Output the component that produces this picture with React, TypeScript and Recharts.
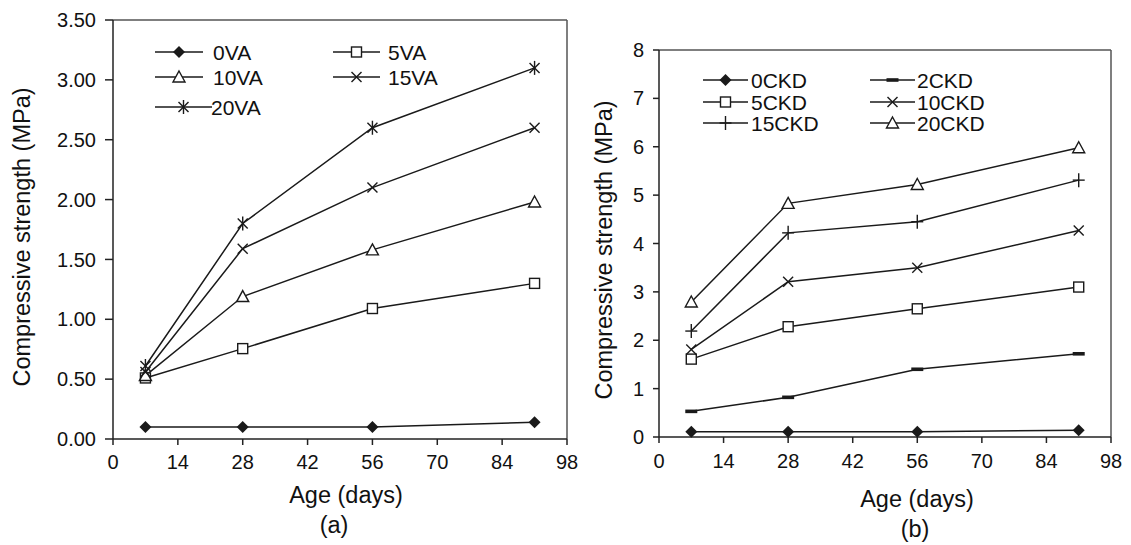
import React from 'react'
import { LineChart, Line, XAxis, YAxis, ReferenceLine } from 'recharts'

const ages = [7, 28, 56, 91]
const ageTicks = [0, 14, 28, 42, 56, 70, 84, 98]

// (a) VA series
const va0 = [0.1, 0.1, 0.1, 0.14]
const va5 = [0.51, 0.755, 1.09, 1.3]
const va10 = [0.53, 1.19, 1.58, 1.98]
const va15 = [0.56, 1.59, 2.1, 2.6]
const va20 = [0.61, 1.8, 2.6, 3.1]
const vaTicks = [0, 0.5, 1, 1.5, 2, 2.5, 3, 3.5]

// (b) CKD series
const ckd0 = [0.11, 0.11, 0.11, 0.14]
const ckd2 = [0.53, 0.82, 1.4, 1.72]
const ckd5 = [1.61, 2.28, 2.65, 3.1]
const ckd10 = [1.81, 3.21, 3.5, 4.27]
const ckd15 = [2.19, 4.22, 4.45, 5.31]
const ckd20 = [2.79, 4.83, 5.22, 5.98]
const ckdTicks = [0, 1, 2, 3, 4, 5, 6, 7, 8]

const FONT = '"Liberation Sans", Arial, sans-serif'
const INK = '#1a1a1a'

type Shape = 'diamond' | 'square' | 'triangle' | 'cross' | 'star' | 'plus' | 'dash'

function Marker({ shape, cx, cy }: { shape: Shape; cx: number; cy: number }) {
  const s = { stroke: INK, strokeWidth: 1.4 }
  switch (shape) {
    case 'diamond':
      return <polygon points={`${cx},${cy - 6} ${cx + 6},${cy} ${cx},${cy + 6} ${cx - 6},${cy}`} fill={INK} />
    case 'square':
      return <rect x={cx - 5} y={cy - 5} width={10} height={10} fill="#fff" {...s} />
    case 'triangle':
      return <polygon points={`${cx},${cy - 6} ${cx + 6},${cy + 5} ${cx - 6},${cy + 5}`} fill="#fff" {...s} />
    case 'cross':
      return (
        <g {...s}>
          <line x1={cx - 5} y1={cy - 5} x2={cx + 5} y2={cy + 5} />
          <line x1={cx - 5} y1={cy + 5} x2={cx + 5} y2={cy - 5} />
        </g>
      )
    case 'star':
      return (
        <g {...s}>
          <line x1={cx - 5} y1={cy - 5} x2={cx + 5} y2={cy + 5} />
          <line x1={cx - 5} y1={cy + 5} x2={cx + 5} y2={cy - 5} />
          <line x1={cx} y1={cy - 7} x2={cx} y2={cy + 7} />
        </g>
      )
    case 'plus':
      return (
        <g {...s}>
          <line x1={cx - 6} y1={cy} x2={cx + 6} y2={cy} />
          <line x1={cx} y1={cy - 7} x2={cx} y2={cy + 7} />
        </g>
      )
    default:
      return <rect x={cx - 6} y={cy - 1.8} width={12} height={3.6} fill={INK} />
  }
}

type Series = { key: string; name: string; values: number[]; shape: Shape }

const vaSeries: Series[] = [
  { key: 'v0', name: '0VA', values: va0, shape: 'diamond' },
  { key: 'v5', name: '5VA', values: va5, shape: 'square' },
  { key: 'v10', name: '10VA', values: va10, shape: 'triangle' },
  { key: 'v15', name: '15VA', values: va15, shape: 'cross' },
  { key: 'v20', name: '20VA', values: va20, shape: 'star' },
]

const ckdSeries: Series[] = [
  { key: 'c0', name: '0CKD', values: ckd0, shape: 'diamond' },
  { key: 'c2', name: '2CKD', values: ckd2, shape: 'dash' },
  { key: 'c5', name: '5CKD', values: ckd5, shape: 'square' },
  { key: 'c10', name: '10CKD', values: ckd10, shape: 'cross' },
  { key: 'c15', name: '15CKD', values: ckd15, shape: 'plus' },
  { key: 'c20', name: '20CKD', values: ckd20, shape: 'triangle' },
]

function buildRows(series: Series[]) {
  return ages.map((age, i) => {
    const row: Record<string, number> = { age }
    series.forEach((s) => {
      row[s.key] = s.values[i]
    })
    return row
  })
}

const tickStyle = { fontSize: 20, fill: '#111', fontFamily: FONT }
const axisStroke = { stroke: '#222', strokeWidth: 1.5 }

function StrengthChart({
  series,
  width,
  height,
  yAxisWidth,
  margin,
  yMax,
  yTicks,
  yFormat,
  yTickSize,
  xTickMargin,
}: {
  series: Series[]
  width: number
  height: number
  yAxisWidth: number
  margin: { top: number; right: number; bottom: number; left: number }
  yMax: number
  yTicks: number[]
  yFormat: (v: number) => string
  yTickSize: number
  xTickMargin: number
}) {
  const rows = buildRows(series)
  return (
    <LineChart width={width} height={height} data={rows} margin={margin}>
      <XAxis
        type="number"
        dataKey="age"
        domain={[0, 98]}
        ticks={ageTicks}
        interval={0}
        height={30}
        tick={tickStyle}
        tickSize={6}
        tickMargin={xTickMargin}
        axisLine={axisStroke}
        tickLine={axisStroke}
      />
      <YAxis
        type="number"
        domain={[0, yMax]}
        ticks={yTicks}
        interval={0}
        width={yAxisWidth}
        tickFormatter={yFormat}
        tick={tickStyle}
        tickSize={yTickSize}
        tickMargin={9}
        axisLine={axisStroke}
        tickLine={axisStroke}
      />
      <ReferenceLine y={yMax} stroke="#555" strokeWidth={1.5} />
      <ReferenceLine x={98} stroke="#555" strokeWidth={1.5} />
      {series.map((s) => (
        <Line
          key={s.key}
          dataKey={s.key}
          type="linear"
          stroke={INK}
          strokeWidth={1.5}
          isAnimationActive={false}
          dot={(p: any) => <Marker key={`${s.key}-${p.index}`} shape={s.shape} cx={p.cx} cy={p.cy} />}
        />
      ))}
    </LineChart>
  )
}

function LegendItem({
  x1,
  x2,
  y,
  textX,
  shape,
  label,
  size,
}: {
  x1: number
  x2: number
  y: number
  textX: number
  shape: Shape
  label: string
  size: number
}) {
  return (
    <g>
      <line x1={x1} y1={y} x2={x2} y2={y} stroke={INK} strokeWidth={1.5} />
      <Marker shape={shape} cx={(x1 + x2) / 2} cy={y} />
      <text x={textX} y={y + size * 0.36} fontSize={size} fill="#111" fontFamily={FONT}>
        {label}
      </text>
    </g>
  )
}

export default function App() {
  return (
    <div style={{ position: 'absolute', left: 0, top: 0, width: 1131, height: 545, background: '#fff' }}>
      <div style={{ position: 'absolute', left: 0, top: 0 }}>
        <StrengthChart
          series={vaSeries}
          width={580}
          height={545}
          yAxisWidth={113}
          margin={{ top: 20, right: 13, bottom: 76, left: 0 }}
          yMax={3.5}
          yTicks={vaTicks}
          yFormat={(v) => v.toFixed(2)}
          yTickSize={8}
          xTickMargin={10}
        />
      </div>
      <div style={{ position: 'absolute', left: 580, top: 0 }}>
        <StrengthChart
          series={ckdSeries}
          width={551}
          height={545}
          yAxisWidth={79}
          margin={{ top: 50, right: 20, bottom: 78, left: 0 }}
          yMax={8}
          yTicks={ckdTicks}
          yFormat={(v) => String(v)}
          yTickSize={6}
          xTickMargin={11}
        />
      </div>
      <svg
        width={1131}
        height={545}
        style={{ position: 'absolute', left: 0, top: 0, pointerEvents: 'none' }}
        fontFamily={FONT}
      >
        {/* legend (a) */}
        <LegendItem x1={155} x2={203} y={52} textX={213} shape="diamond" label="0VA" size={21} />
        <LegendItem x1={333} x2={380} y={52} textX={388} shape="square" label="5VA" size={21} />
        <LegendItem x1={155} x2={203} y={77} textX={213} shape="triangle" label="10VA" size={21} />
        <LegendItem x1={333} x2={380} y={77} textX={388} shape="cross" label="15VA" size={21} />
        <LegendItem x1={155} x2={212} y={107} textX={211} shape="star" label="20VA" size={21} />
        {/* legend (b) */}
        <LegendItem x1={703} x2={748} y={80} textX={751} shape="diamond" label="0CKD" size={21} />
        <LegendItem x1={870} x2={915} y={80} textX={917} shape="dash" label="2CKD" size={21} />
        <LegendItem x1={703} x2={748} y={102} textX={751} shape="square" label="5CKD" size={21} />
        <LegendItem x1={870} x2={915} y={102} textX={917} shape="cross" label="10CKD" size={21} />
        <LegendItem x1={703} x2={748} y={123} textX={751} shape="plus" label="15CKD" size={21} />
        <LegendItem x1={870} x2={915} y={123} textX={917} shape="triangle" label="20CKD" size={21} />

        {/* axis titles */}
        <text transform="translate(30,237) rotate(-90)" textAnchor="middle" fontSize={23.5} fill="#111">
          Compressive strength (MPa)
        </text>
        <text x={346} y={503} textAnchor="middle" fontSize={23.5} fill="#111">
          Age (days)
        </text>
        <text x={334} y={533} textAnchor="middle" fontSize={23.5} fill="#111">
          (a)
        </text>
        <text transform="translate(612,250) rotate(-90)" textAnchor="middle" fontSize={23.5} fill="#111">
          Compressive strength (MPa)
        </text>
        <text x={917} y={507} textAnchor="middle" fontSize={23.5} fill="#111">
          Age (days)
        </text>
        <text x={915} y={537} textAnchor="middle" fontSize={23.5} fill="#111">
          (b)
        </text>
      </svg>
    </div>
  )
}
